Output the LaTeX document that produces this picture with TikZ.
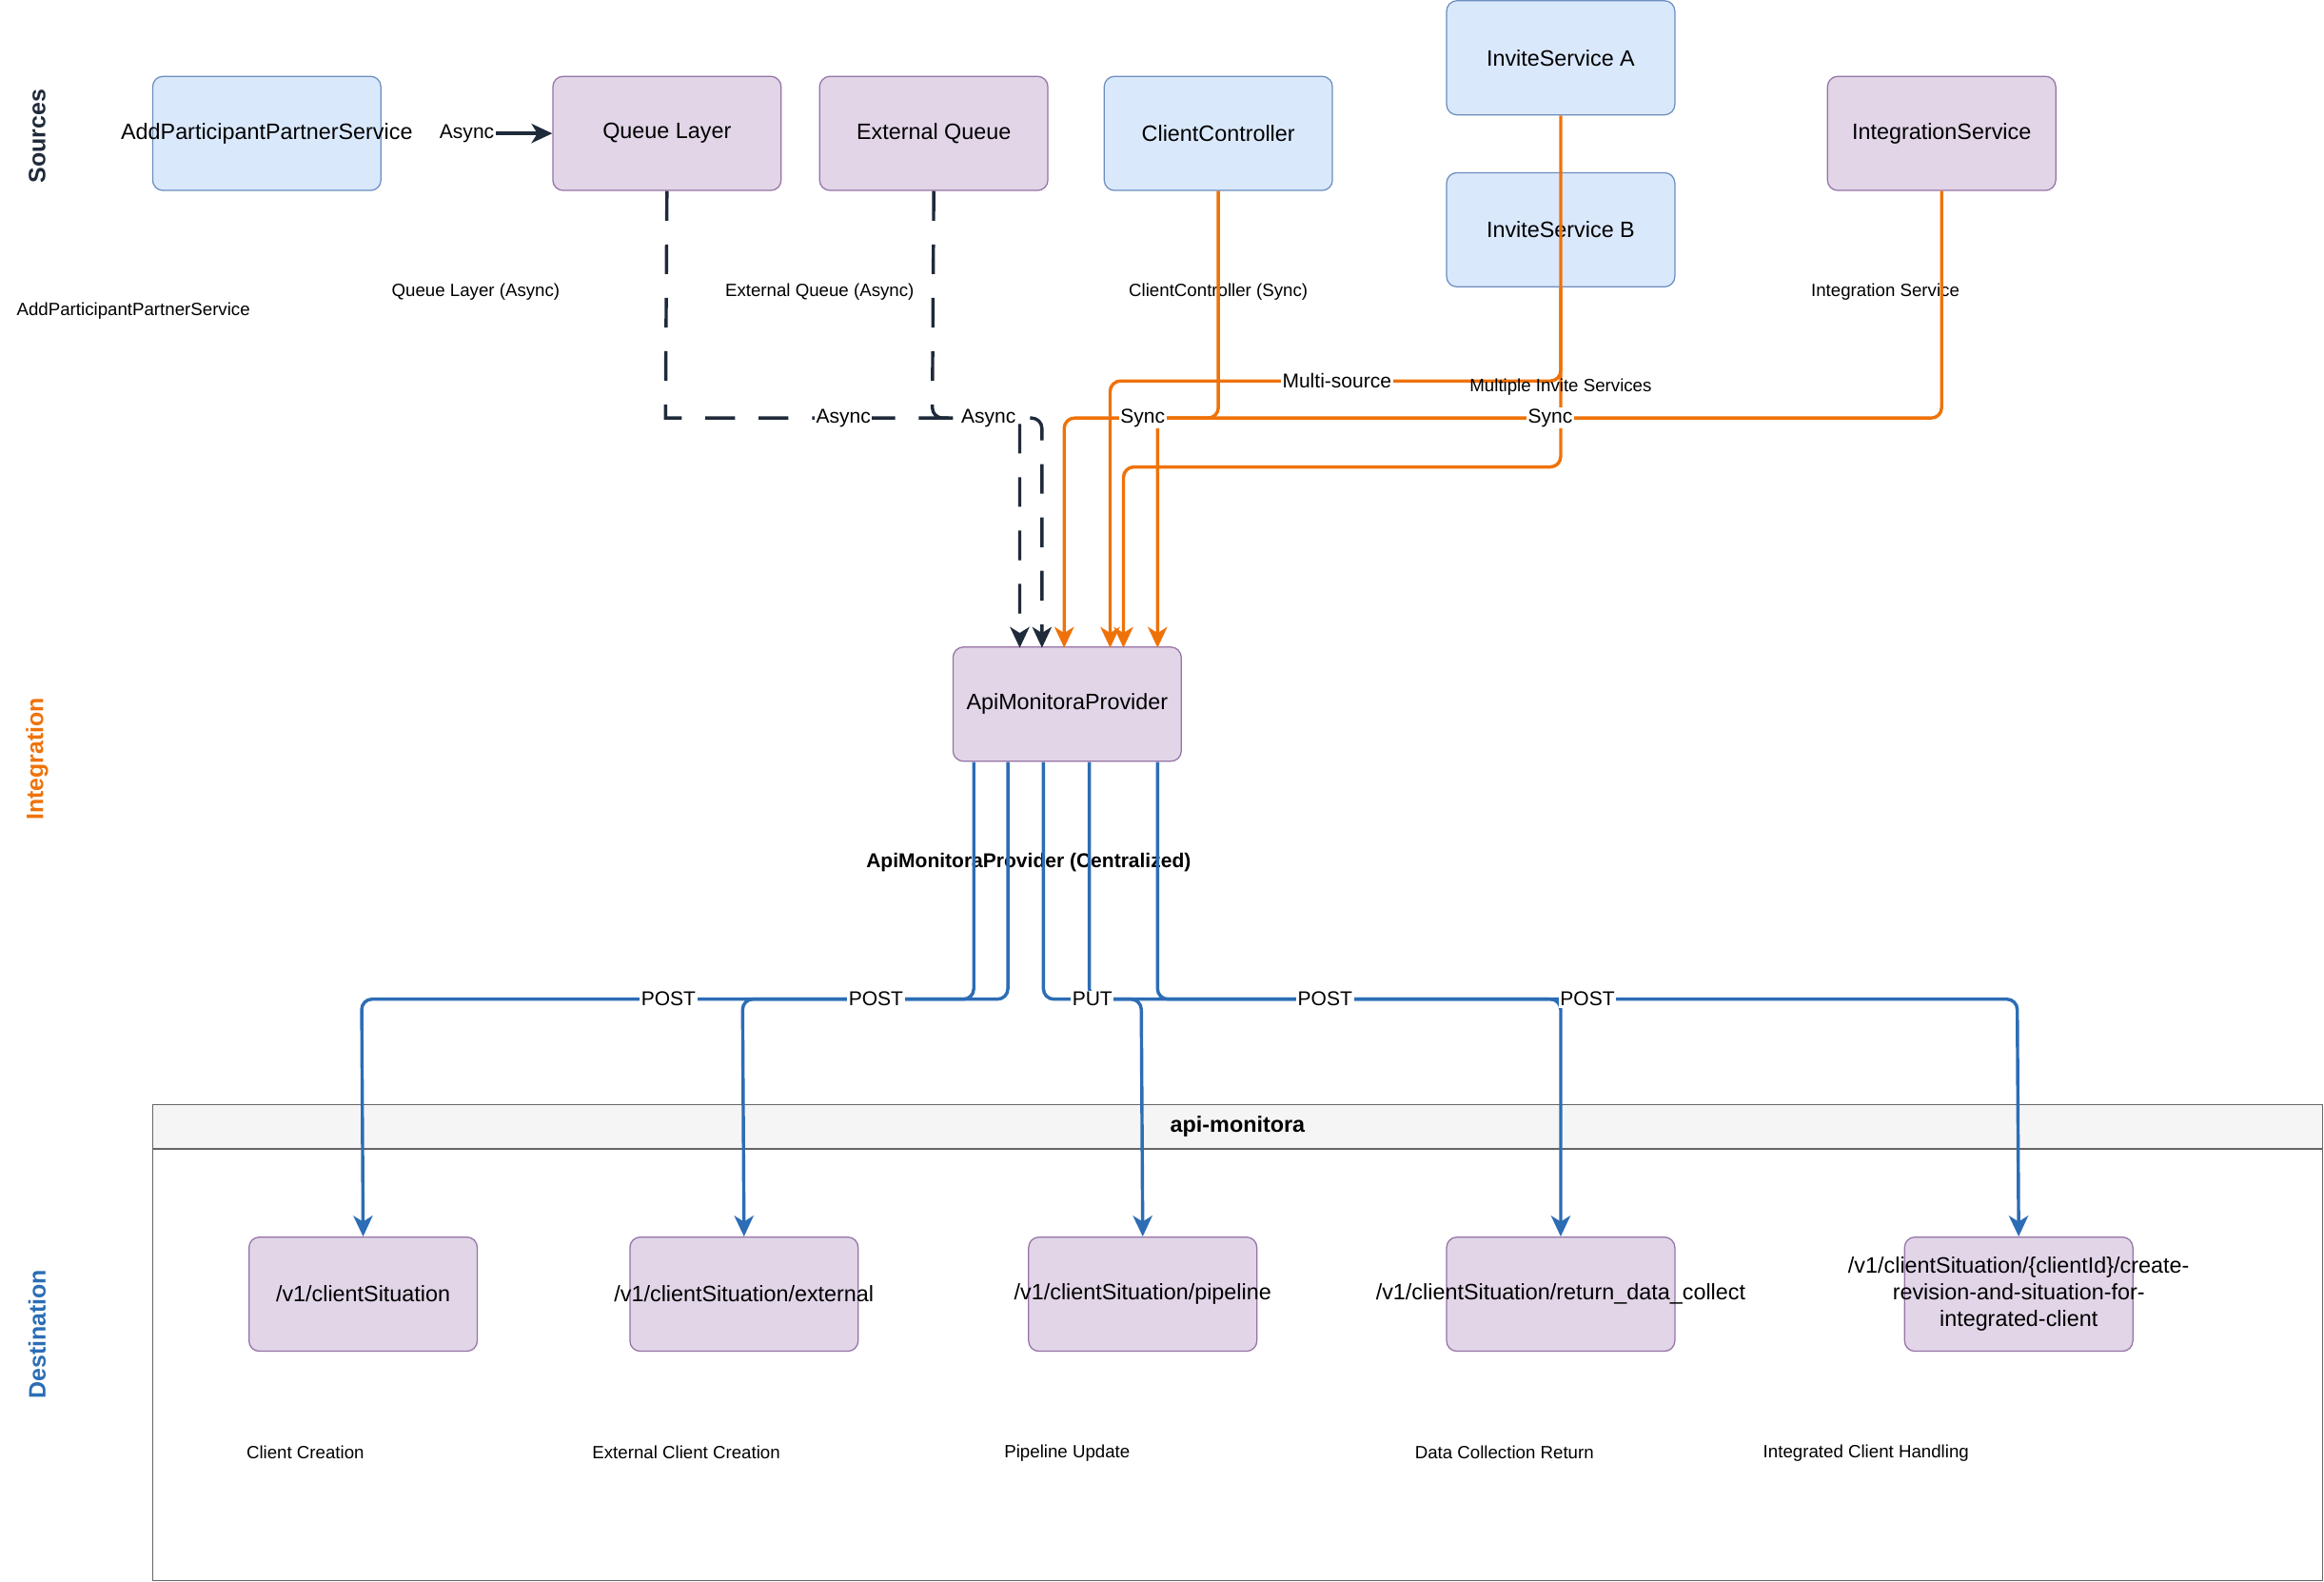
\documentclass[tikz,border=0pt]{standalone}
\usepackage{fontspec}
\setmainfont{Liberation Sans}
\usetikzlibrary{arrows.meta}
\definecolor{bfill}{HTML}{DAE8FC}\definecolor{bstroke}{HTML}{6C8EBF}
\definecolor{pfill}{HTML}{E1D5E7}\definecolor{pstroke}{HTML}{9673A6}
\definecolor{dk}{HTML}{1F2A3A}\definecolor{orn}{HTML}{EF7209}\definecolor{blu}{HTML}{2C6DB5}
\begin{document}
\begin{tikzpicture}[x=1pt,y=-1pt,
 bx/.style={draw,rounded corners=7pt,minimum width=154pt,minimum height=77pt,font=\fontsize{15}{18}\selectfont,line width=0.8pt,align=center},
 bb/.style={bx,fill=bfill,draw=bstroke},
 pb/.style={bx,fill=pfill,draw=pstroke},
 tx/.style={font=\fontsize{15}{18}\selectfont,align=center},
 sm/.style={font=\fontsize{12}{14}\selectfont},
 lab/.style={fill=white,inner sep=1pt,font=\fontsize{13.5}{16}\selectfont},
 tip/.style={-{Stealth[length=14pt,width=13pt,inset=4pt]}},
 dline/.style={draw=dk,line width=2.2pt,dash pattern=on 20pt off 16pt,tip},
 oline/.style={draw=orn,line width=2.2pt,rounded corners=7pt,tip},
 bline/.style={draw=blu,line width=2.2pt,rounded corners=7pt,tip},
 sect/.style={rotate=90,font=\bfseries\fontsize{16}{19}\selectfont}]
\useasboundingbox[fill=white] (0,0) rectangle (1568,1067);
\node[sect,text=dk] (s1) at (25,92) {Sources};
\node[sect,text=orn] (s2) at (25,512) {Integration};
\node[sect,text=blu] (s3) at (25,900) {Destination};
% container
\draw[draw=gray!80!black,fill=white,line width=0.8pt] (103,745) rectangle (1567,1066);
\draw[draw=gray!80!black,fill=black!4,line width=0.8pt] (103,745) rectangle (1567,775);
\node[font=\bfseries\fontsize{15}{18}\selectfont] (cont) at (835,760) {api-monitora};
% sources
\node[bb] (add) at (180,90) {};
\node[tx] (addt) at (180,90) {AddParticipantPartnerService};
\node[pb] (ql) at (450,90) {Queue Layer};
\node[pb] (eq) at (630,90) {External Queue};
\node[bb] (cc) at (822,90) {ClientController};
\node[bb] (ia) at (1053,39) {InviteService A};
\node[bb] (ib) at (1053,155) {InviteService B};
\node[pb] (is) at (1310,90) {IntegrationService};
\node[pb] (api) at (720,475) {ApiMonitoraProvider};
\node[sm] at (90,210) {AddParticipantPartnerService};
\node[sm] at (321,197) {Queue Layer (Async)};
\node[sm] at (553,197) {External Queue (Async)};
\node[sm] at (822,197) {ClientController (Sync)};
\node[sm] at (1272,197) {Integration Service};
\node[font=\bfseries\fontsize{13.5}{16}\selectfont] at (694,582) {ApiMonitoraProvider (Centralized)};
% destinations
\node[pb] (d1) at (245,873) {};
\node[pb] (d2) at (502,873) {};
\node[pb] (d3) at (771,873) {};
\node[pb] (d4) at (1053,873) {};
\node[pb] (d5) at (1362,873) {};
\node[tx] at (245,873) {/v1/clientSituation};
\node[tx] at (502,873) {/v1/clientSituation/external};
\node[tx] at (771,873) {/v1/clientSituation/pipeline};
\node[tx] at (1053,873) {/v1/clientSituation/return\_data\_collect};
\node[tx] at (1362,873) {/v1/clientSituation/\{clientId\}/create-\\revision-and-situation-for-\\integrated-client};
\node[sm] at (206,980) {Client Creation};
\node[sm] at (463,980) {External Client Creation};
\node[sm] at (720,980) {Pipeline Update};
\node[sm] at (1015,980) {Data Collection Return};
\node[sm] at (1259,980) {Integrated Client Handling};
% Async arrow
\node[lab] (asy) at (315,90) {Async};
\draw[draw=dk,line width=2.2pt,tip] (asy.east) -- (ql.west);
% dashed
\draw[dline] (ql.south) -- (449,282) -- (688,282) -- (688,437);
\draw[dline,rounded corners=7pt] (eq.south) -- (629,282) -- (703,282) -- (703,437);
\node[lab] at (569,282) {Async};
\node[lab] at (667,282) {Async};
% orange
\draw[oline] (cc.south) -- (822,282) -- (718,282) -- (718,437);
\draw[oline] (ia.south) -- (1053,257) -- (749,257) -- (749,437);
\draw[oline] (ib.south) -- (1053,315) -- (758,315) -- (758,437);
\draw[oline] (is.south) -- (1310,282) -- (781,282) -- (781,437);
\node[lab] at (771,282) {Sync};
\node[lab] at (902,257) {Multi-source};
\node[lab] at (1046,282) {Sync};
\node[font=\fontsize{12}{14}\selectfont,inner sep=1pt] at (1053,261) {Multiple Invite Services};
% blue
\draw[bline] (657,514) -- (657,674) -- (244,674) -- (d1.north);
\draw[bline] (680,514) -- (680,674) -- (501,674) -- (d2.north);
\draw[bline] (704,514) -- (704,674) -- (770,674) -- (d3.north);
\draw[bline] (735,514) -- (735,674) -- (1053,674) -- (d4.north);
\draw[bline] (781,514) -- (781,674) -- (1361,674) -- (d5.north);
\node[lab] at (451,674) {POST};
\node[lab] at (591,674) {POST};
\node[lab] at (737,674) {PUT};
\node[lab] at (894,674) {POST};
\node[lab] at (1071,674) {POST};
\end{tikzpicture}
\end{document}
